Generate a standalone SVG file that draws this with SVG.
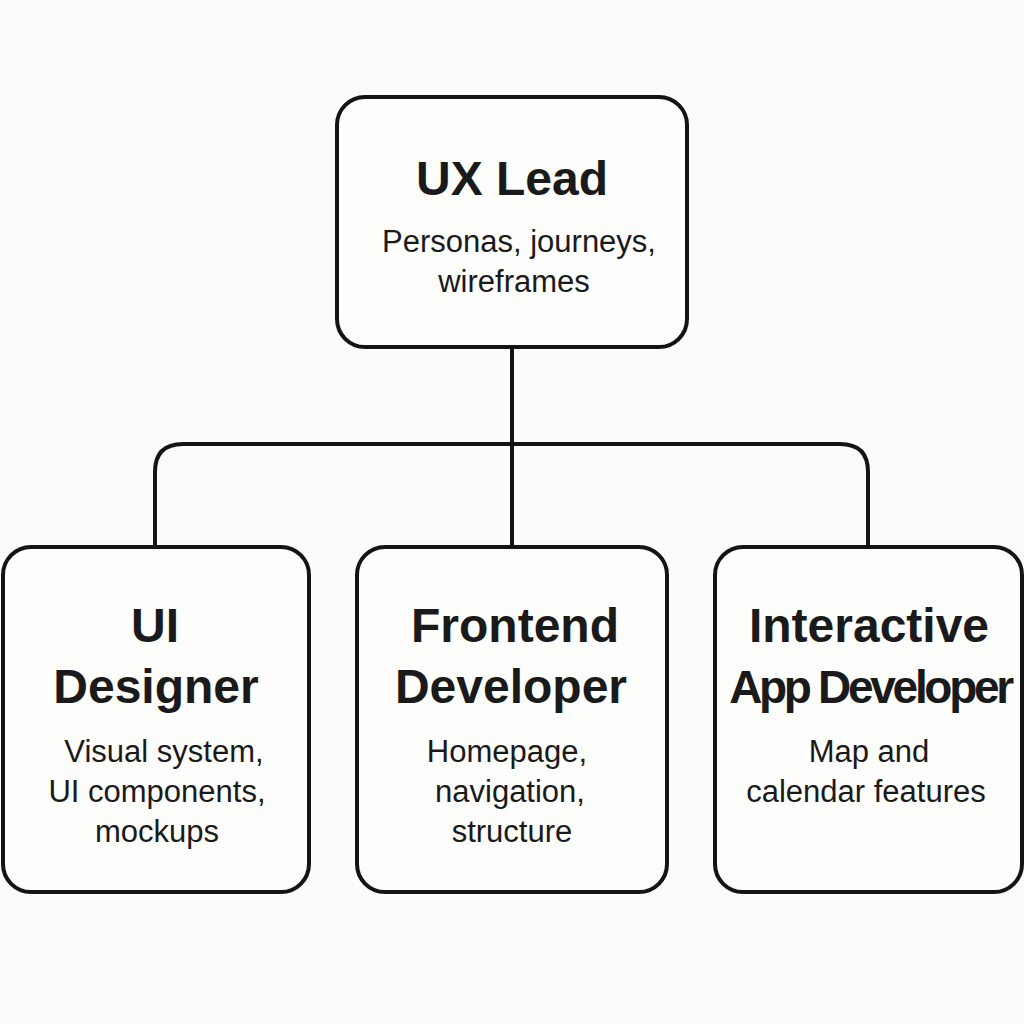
<svg xmlns="http://www.w3.org/2000/svg" width="1024" height="1024" viewBox="0 0 1024 1024">
  <style>
    .box { fill: #fdfdfb; stroke: #141414; stroke-width: 4; }
    .conn { fill: none; stroke: #141414; stroke-width: 4; }
    .title { font-family: "Liberation Sans", Arial, sans-serif; font-weight: bold; font-size: 48px; fill: #1a1a1a; text-anchor: middle; }
    .tight { font-size: 46px; letter-spacing: -3.3px; }
    .sub { font-family: "Liberation Sans", Arial, sans-serif; font-size: 31px; fill: #1a1a1a; text-anchor: middle; }
  </style>
  <rect width="1024" height="1024" fill="#fbfbf9"/>
  <g id="connectors">
    <path class="conn" d="M512,347 V547"/>
    <path class="conn" d="M155,547 V472 Q155,444 183,444 H840 Q868,444 868,472 V547"/>
  </g>
  <g id="ux-lead">
    <rect class="box" x="337" y="97" width="350" height="250" rx="28"/>
    <text class="title" x="512" y="195">UX Lead</text>
    <text class="sub" x="519" y="252">Personas, journeys,</text>
    <text class="sub" x="514" y="292">wireframes</text>
  </g>
  <g id="ui-designer">
    <rect class="box" x="3" y="547" width="306" height="345" rx="28"/>
    <text class="title" x="155" y="642">UI</text>
    <text class="title" x="156" y="703">Designer</text>
    <text class="sub" x="164" y="762">Visual system,</text>
    <text class="sub" x="157" y="802">UI components,</text>
    <text class="sub" x="157" y="842">mockups</text>
  </g>
  <g id="frontend-developer">
    <rect class="box" x="357" y="547" width="310" height="345" rx="28"/>
    <text class="title" x="515" y="642">Frontend</text>
    <text class="title" x="511" y="703">Developer</text>
    <text class="sub" x="507" y="762">Homepage,</text>
    <text class="sub" x="510" y="802">navigation,</text>
    <text class="sub" x="512" y="842">structure</text>
  </g>
  <g id="interactive-app-developer">
    <rect class="box" x="715" y="547" width="307" height="345" rx="28"/>
    <text class="title" x="869" y="642">Interactive</text>
    <text class="title tight" x="870" y="703">App Developer</text>
    <text class="sub" x="869" y="762">Map and</text>
    <text class="sub" x="866" y="802">calendar features</text>
  </g>
</svg>
